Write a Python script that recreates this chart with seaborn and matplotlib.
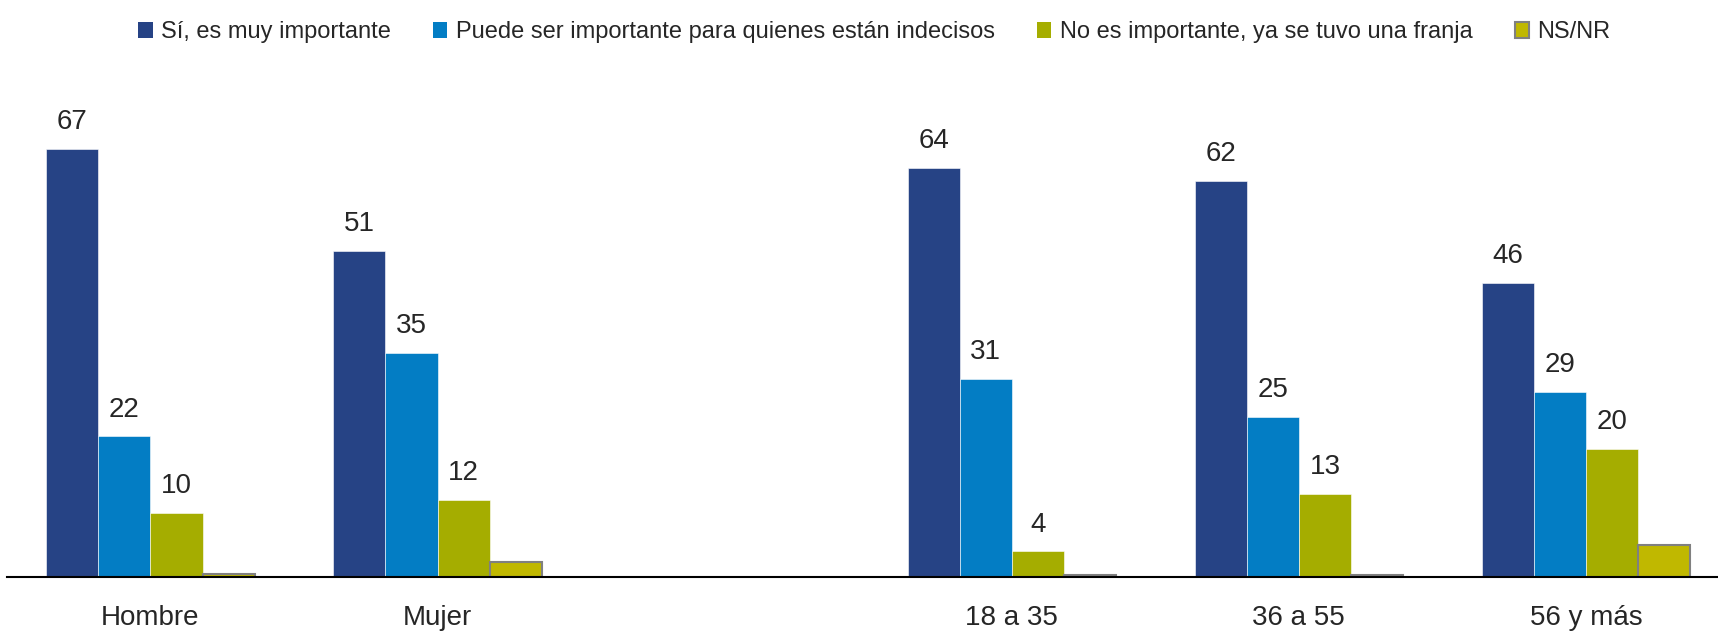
import matplotlib
matplotlib.use("Agg")
import matplotlib.pyplot as plt
import pandas as pd
import seaborn as sns

grupos = ["Hombre", "Mujer", "18 a 35", "36 a 55", "56 y más"]
orden = ["Hombre", "Mujer", "", "18 a 35", "36 a 55", "56 y más"]
series = [
    "Sí, es muy importante",
    "Puede ser importante para quienes están indecisos",
    "No es importante, ya se tuvo una franja",
    "NS/NR",
]
muy_importante = [67, 51, 64, 62, 46]
puede_ser = [22, 35, 31, 25, 29]
no_importante = [10, 12, 4, 13, 20]
ns_nr = [0.4, 2.3, 0.3, 0.3, 5.0]

colores = ["#264385", "#037dc4", "#a5ad00", "#c0b800"]

valores = [muy_importante, puede_ser, no_importante, ns_nr]
filas = []
for serie, vals in zip(series, valores):
    for g, v in zip(grupos, vals):
        filas.append({"grupo": g, "serie": serie, "valor": v})
df = pd.DataFrame(filas)

sns.set_style("white")
plt.rcParams["font.family"] = ["Liberation Sans", "DejaVu Sans"]

fig = plt.figure(figsize=(17.18, 6.32), dpi=100)
ax = fig.add_axes([0.004, 0.087, 0.996, 0.818])

sns.barplot(data=df, x="grupo", y="valor", hue="serie", order=orden,
            hue_order=series, palette=colores, width=0.726, ax=ax,
            legend=False, saturation=1, errorbar=None)

# bordes de las barras
for i, cont in enumerate(ax.containers):
    for barra in cont:
        if i == 3:
            barra.set_edgecolor("#808080")
            barra.set_linewidth(1.5)
        else:
            barra.set_edgecolor("#ffffff")
            barra.set_linewidth(0.4)

for cont in ax.containers[:3]:
    ax.bar_label(cont, fmt="%d", padding=10, fontsize=20)

ax.set_xlim(-0.5, 5.46)
ax.set_ylim(0, 80.9)
ax.set_xlabel("")
ax.set_ylabel("")
ax.set_yticks([])
ax.tick_params(axis="x", length=0, pad=20, labelsize=20)
for lado in ["top", "right", "left"]:
    ax.spines[lado].set_visible(False)
ax.spines["bottom"].set_color("black")
ax.spines["bottom"].set_linewidth(1.5)

manijas = [plt.Rectangle((0, 0), 1, 1, facecolor=c,
                         edgecolor="#808080" if i == 3 else c,
                         linewidth=1.5 if i == 3 else 0)
           for i, c in enumerate(colores)]
fig.legend(manijas, series, loc="upper center", bbox_to_anchor=(0.509, 1.0),
           ncol=4, frameon=False, fontsize=17, handlelength=0.6,
           handleheight=0.7, handletextpad=0.35, columnspacing=1.8)

fig.savefig("out.png", dpi=100)
